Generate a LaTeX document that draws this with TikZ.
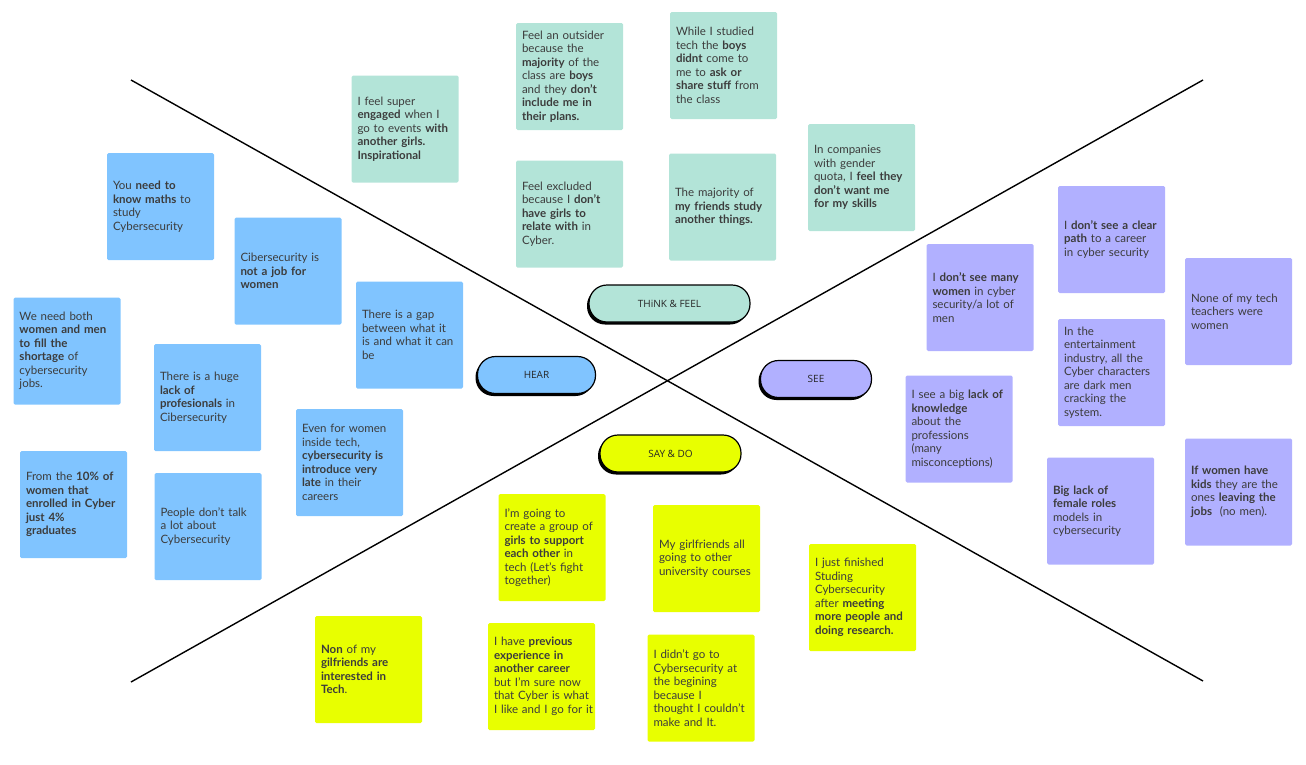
\documentclass[tikz,border=0pt]{standalone}
\usepackage{fontspec}
\setmainfont{Lato}
\newfontfamily\pillfont{Open Sans}
\definecolor{cteal}{HTML}{B3E4D8}
\definecolor{cblue}{HTML}{80C4FF}
\definecolor{cyell}{HTML}{E8FF00}
\definecolor{cpurp}{HTML}{B1B0FF}
\definecolor{ctext}{HTML}{3C3C3C}
\tikzset{
  note/.style={rectangle, rounded corners=1.5pt, minimum width=107pt, minimum height=107pt,
    text width=95pt, inner xsep=6pt, inner ysep=0pt, align=left, text=ctext,
    font=\fontsize{11.5}{13.5}\selectfont},
  tnote/.style={note, fill=cteal},
  bnote/.style={note, fill=cblue},
  ynote/.style={note, fill=cyell},
  pnote/.style={note, fill=cpurp},
  pill/.style={rectangle, rounded corners=18pt, draw=black, line width=1.2pt,
    minimum height=37pt, inner sep=0pt, text=black!85,
    font=\pillfont\fontsize{10}{12}\selectfont,
    preaction={fill=black, transform canvas={xshift=-2pt,yshift=-2.5pt}}},
  axis/.style={line width=1.4pt, draw=black}
}
\begin{document}
\begin{tikzpicture}[x=1pt,y=-1pt]
\useasboundingbox (0,0) rectangle (1306,764);
% axes
\coordinate (a1) at (131,80);
\coordinate (a2) at (1203,681);
\coordinate (b1) at (131,682);
\coordinate (b2) at (1203,80);
\draw[axis] (a1) -- (a2);
\draw[axis] (b1) -- (b2);

% THINK & FEEL
\node[tnote] (t1) at (405,129) {I feel super\\\textbf{engaged} when I\\go to events \textbf{with}\\\textbf{another girls.}\\\textbf{Inspirational}};
\node[tnote] (t2) at (569.5,76.5) {Feel an outsider\\because the\\\textbf{majority} of the\\class are \textbf{boys}\\and they \textbf{don’t}\\\textbf{include me in}\\\textbf{their plans.}};
\node[tnote] (t3) at (723.5,65.5) {While I studied\\tech the \textbf{boys}\\\textbf{didnt} come to\\me to \textbf{ask or}\\\textbf{share stuff} from\\the class};
\node[tnote] (t4) at (569.5,214) {Feel excluded\\because I \textbf{don’t}\\\textbf{have girls to}\\\textbf{relate with} in\\Cyber.};
\node[tnote] (t5) at (722.5,207) {The majority of\\\textbf{my friends study}\\\textbf{another things.}};
\node[tnote] (t6) at (861.5,177.5) {In companies\\with gender\\quota, I \textbf{feel they}\\\textbf{don’t want me}\\\textbf{for my skills}};

% HEAR
\node[bnote] (h1) at (160.5,206.5) {You \textbf{need to}\\\textbf{know maths} to\\study\\Cybersecurity};
\node[bnote] (h2) at (288,271) {Cibersecurity is\\\textbf{not a job for}\\\textbf{women}};
\node[bnote] (h3) at (67,351) {We need both\\\textbf{women and men}\\\textbf{to fill the}\\\textbf{shortage} of\\cybersecurity\\jobs.};
\node[bnote] (h4) at (409.5,335) {There is a gap\\between what it\\is and what it can\\be};
\node[bnote] (h5) at (207.5,397.5) {There is a huge\\\textbf{lack of}\\\textbf{profesionals} in\\Cibersecurity};
\node[bnote] (h6) at (349.5,462.5) {Even for women\\inside tech,\\\textbf{cybersecurity is}\\\textbf{introduce very}\\\textbf{late} in their\\careers};
\node[bnote] (h7) at (73.5,504.5) {From the \textbf{10\% of}\\\textbf{women that}\\\textbf{enrolled in Cyber}\\\textbf{just 4\%}\\\textbf{graduates}};
\node[bnote] (h8) at (208,526.5) {People don’t talk\\a lot about\\Cybersecurity};

% SAY & DO
\node[ynote] (s1) at (552,547.5) {I’m going to\\create a group of\\\textbf{girls to support}\\\textbf{each other} in\\tech (Let’s fight\\together)};
\node[ynote] (s2) at (368.5,669.5) {\textbf{Non} of my\\\textbf{gilfriends are}\\\textbf{interested in}\\\textbf{Tech}.};
\node[ynote] (s3) at (541.5,676.5) {I have \textbf{previous}\\\textbf{experience in}\\\textbf{another career}\\but I’m sure now\\that Cyber is what\\\mbox{I like and I go for it}};
\node[ynote] (s4) at (706.5,558.5) {My girlfriends all\\going to other\\university courses};
\node[ynote] (s5) at (862.5,597.5) {I just finished\\Studing\\Cybersecurity\\after \textbf{meeting}\\\textbf{more people and}\\\textbf{doing research.}};
\node[ynote] (s6) at (701,688) {I didn’t go to\\Cybersecurity at\\the begining\\because I\\thought I couldn’t\\make and It.};

% SEE
\node[pnote] (e1) at (980,297.5) {I \textbf{don’t see many}\\\textbf{women} in cyber\\security/a lot of\\men};
\node[pnote] (e2) at (1111.5,239.5) {I \textbf{don’t see a clear}\\\textbf{path} to a career\\in cyber security};
\node[pnote] (e3) at (1238.5,311.5) {None of my tech\\teachers were\\women};
\node[pnote] (e4) at (1111.5,372.5) {In the\\entertainment\\industry, all the\\Cyber characters\\are dark men\\cracking the\\system.};
\node[pnote] (e5) at (959,429) {I see a big \textbf{lack of}\\\textbf{knowledge}\\about the\\professions\\(many\\misconceptions)};
\node[pnote] (e6) at (1100.5,511) {\textbf{Big lack of}\\\textbf{female roles}\\models in\\cybersecurity};
\node[pnote] (e7) at (1238.5,492) {\textbf{If women have}\\\textbf{kids} they are the\\ones \textbf{leaving the}\\\textbf{jobs}\ \ (no men).};

% pills
\node[pill, fill=cteal, minimum width=161pt] (think) at (669.5,303.5) {THiNK \& FEEL};
\node[pill, fill=cblue, minimum width=118pt] (hear) at (536.5,375) {HEAR};
\node[pill, fill=cpurp, minimum width=111pt] (see) at (816,379) {SEE};
\node[pill, fill=cyell, minimum width=141pt] (say) at (670.5,453.5) {SAY \& DO};
\end{tikzpicture}
\end{document}
